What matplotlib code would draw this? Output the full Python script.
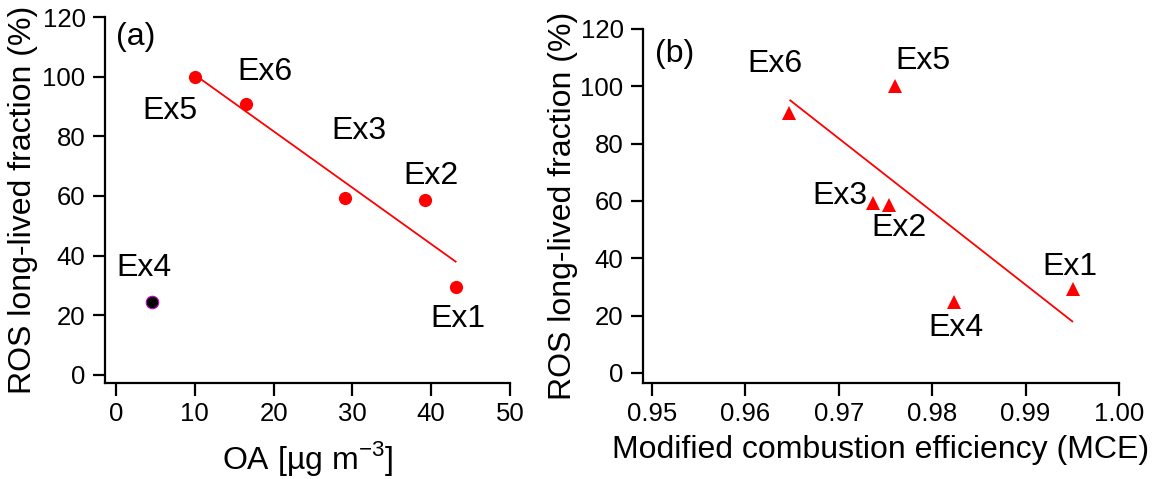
import matplotlib
matplotlib.use("Agg")
import matplotlib.pyplot as plt

plt.rcParams["font.family"] = ["Liberation Sans", "DejaVu Sans"]
plt.rcParams["mathtext.fontset"] = "custom"
plt.rcParams["mathtext.rm"] = "Liberation Sans"

# Данные: эксперименты Ex1..Ex6
labels = ["Ex1", "Ex2", "Ex3", "Ex4", "Ex5", "Ex6"]
oa = [43.1, 39.2, 29.1, 4.6, 10.0, 16.5]
mce = [0.99507, 0.97541, 0.97362, 0.98237, 0.97598, 0.96466]
ros_fraction = [29.4, 58.5, 59.4, 24.6, 100.0, 90.8]

# Линии регрессии (концы)
fit_a_x = [10.0, 43.1]
fit_a_y = [100.6, 38.0]
fit_b_x = [0.9648, 0.9950]
fit_b_y = [95.1, 18.0]

# Положения подписей
lab_a_x = [43.4, 40.0, 30.8, 3.5, 6.9, 18.9]
lab_a_y = [18.7, 66.6, 81.9, 35.7, 88.6, 101.5]
lab_b_x = [0.99479, 0.97646, 0.97015, 0.98257, 0.9790, 0.96315]
lab_b_y = [37.1, 50.7, 61.7, 15.7, 108.8, 107.8]

W, H = 1156, 479
fig = plt.figure(figsize=(W / 100, H / 100), dpi=100)

ax1 = fig.add_axes([105 / W, 1 - 383 / H, (510 - 105) / W, (383 - 17) / H])
ax2 = fig.add_axes([643 / W, 1 - 383 / H, (1119 - 643) / W, (383 - 29) / H])

tick_fs = 18.5
label_fs = 23

# (a) OA
red = [i for i in range(len(labels)) if labels[i] != "Ex4"]
ax1.plot([oa[i] for i in red], [ros_fraction[i] for i in red], "o",
         color="#ff0000", markersize=9.5, markeredgewidth=0, zorder=3)
i4 = labels.index("Ex4")
ax1.plot([oa[i4]], [ros_fraction[i4]], "o", color="black",
         markeredgecolor="#cc00cc", markersize=9, markeredgewidth=0.8, zorder=3)
ax1.plot(fit_a_x, fit_a_y, color="#ff0000", linewidth=1.3, zorder=2)
for t, x, y in zip(labels, lab_a_x, lab_a_y):
    ax1.text(x, y, t, fontsize=label_fs, ha="center", va="center")
ax1.text(2.5, 113.3, "(a)", fontsize=label_fs, ha="center", va="center")

ax1.set_xlim(-1.4, 50)
ax1.set_ylim(-2.7, 120)
ax1.set_xticks([0, 10, 20, 30, 40, 50])
ax1.set_yticks([0, 20, 40, 60, 80, 100, 120])
ax1.set_xlabel("OA [µg m$^{\\mathregular{-3}}$]", fontsize=label_fs, labelpad=9)
ax1.set_ylabel("ROS long-lived fraction (%)", fontsize=label_fs, labelpad=3)

# (b) MCE
ax2.plot(mce, ros_fraction, "^", color="#ff0000", markersize=10.5,
         markeredgewidth=0, zorder=3)
ax2.plot(fit_b_x, fit_b_y, color="#ff0000", linewidth=1.3, zorder=2)
for t, x, y in zip(labels, lab_b_x, lab_b_y):
    ax2.text(x, y, t, fontsize=label_fs, ha="center", va="center")
ax2.text(0.95244, 111.3, "(b)", fontsize=label_fs, ha="center", va="center")

ax2.set_xlim(0.94904, 1.0)
ax2.set_ylim(-3.5, 120)
ax2.set_xticks([0.95, 0.96, 0.97, 0.98, 0.99, 1.00])
ax2.set_xticklabels(["0.95", "0.96", "0.97", "0.98", "0.99", "1.00"])
ax2.set_yticks([0, 20, 40, 60, 80, 100, 120])
ax2.set_xlabel("Modified combustion efficiency (MCE)", fontsize=label_fs, labelpad=6)
ax2.set_ylabel("ROS long-lived fraction (%)", fontsize=label_fs, labelpad=2)

for ax in (ax1, ax2):
    ax.spines["top"].set_visible(False)
    ax.spines["right"].set_visible(False)
    ax.spines["left"].set_linewidth(1.6)
    ax.spines["bottom"].set_linewidth(1.6)
    ax.tick_params(direction="out", length=9, width=1.6, labelsize=tick_fs, pad=5)

fig.savefig("out.png", dpi=100)
